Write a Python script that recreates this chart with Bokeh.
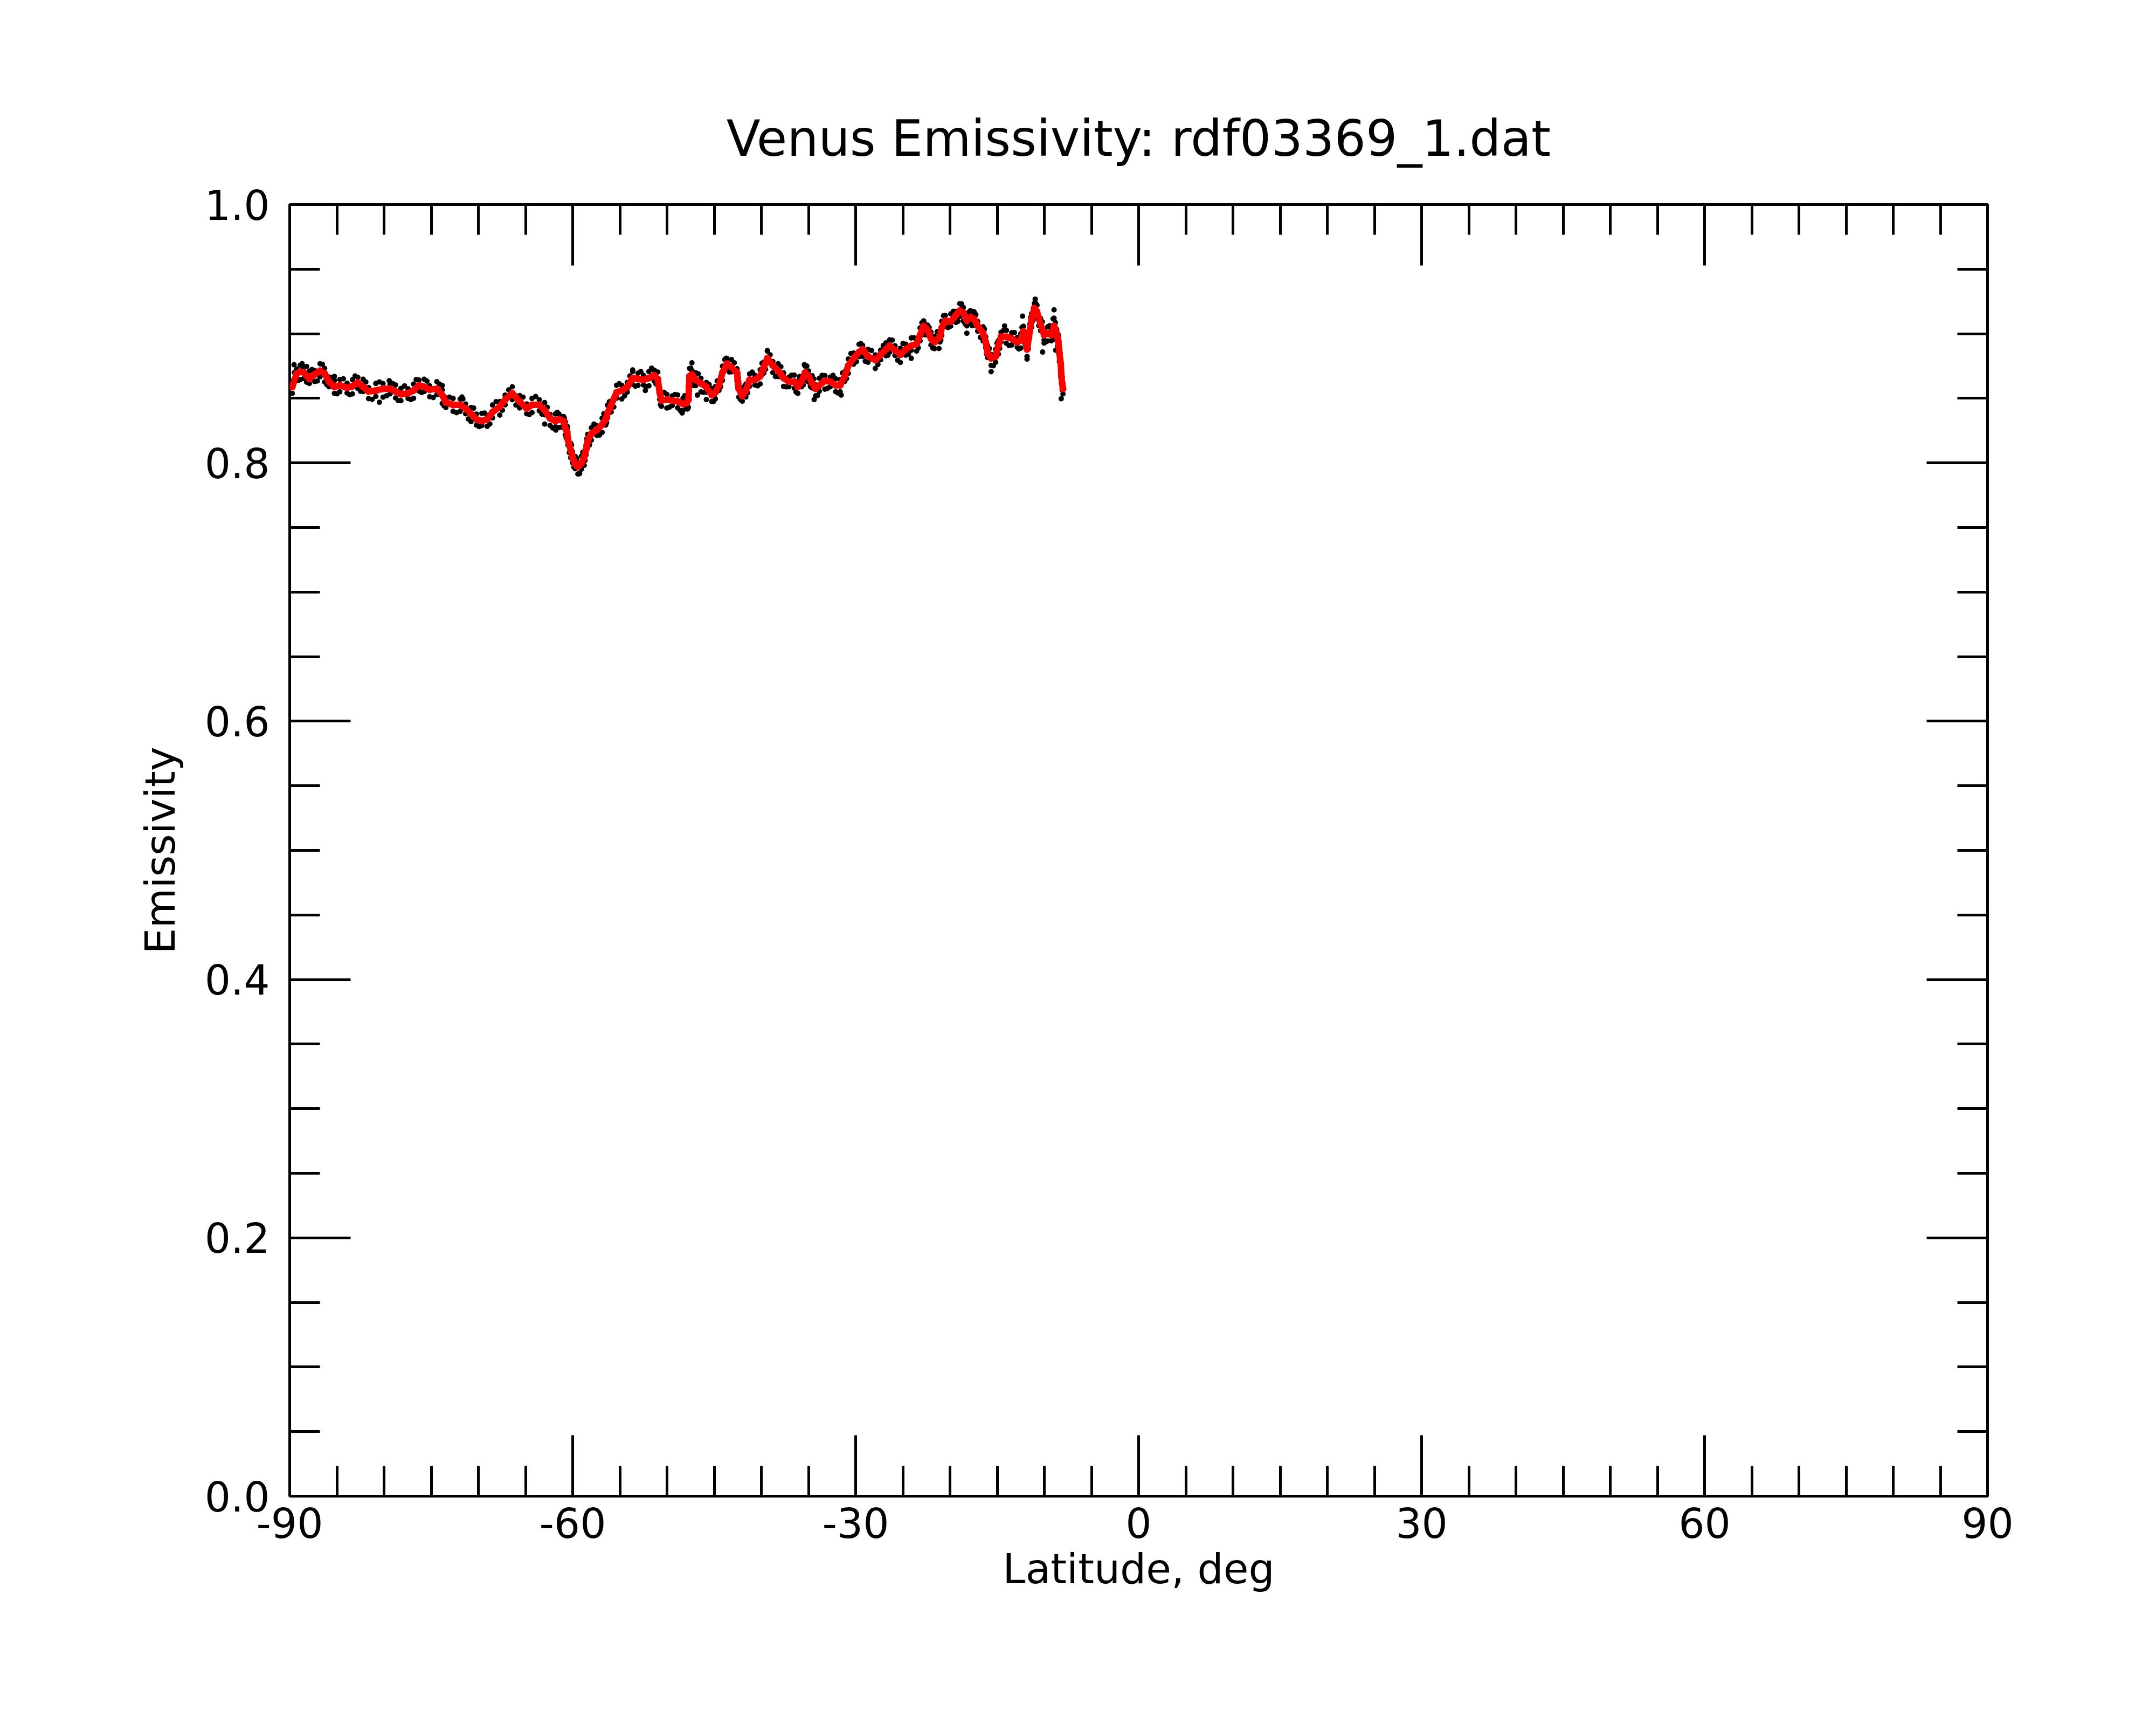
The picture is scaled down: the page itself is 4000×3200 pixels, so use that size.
from bokeh.plotting import figure
from bokeh.models import (FixedTicker, PrintfTickFormatter, LinearAxis,
                          CustomJSTickFormatter, Range1d, ColumnDataSource)
from bokeh.embed import file_html
from bokeh.resources import INLINE

TITLE = "Venus Emissivity: rdf03369_1.dat"
X_LABEL = "Latitude, deg"
Y_LABEL = "Emissivity"

X_TICKS = [-90, -60, -30, 0, 30, 60, 90]
Y_TICKS = [0.0, 0.2, 0.4, 0.6, 0.8, 1.0]

# latitude of the smoothed samples (deg)
LAT = [
    -89.73, -89.26, -88.88, -88.50, -87.92, -87.35, -86.78, -86.30, -85.83, -85.26,
    -84.69, -83.92, -83.35, -82.78, -82.21, -81.64, -80.87, -80.11, -79.36, -78.78,
    -78.21, -77.45, -76.87, -76.30, -75.74, -75.16, -74.40, -73.83, -73.44, -72.68,
    -71.93, -71.35, -70.78, -70.21, -69.63, -69.06, -68.50, -67.73, -67.16, -66.40,
    -65.63, -64.88, -64.31, -63.54, -62.97, -62.40, -61.83, -61.45, -60.97, -60.78,
    -60.59, -60.50, -60.21, -60.02, -59.73, -59.45, -59.07, -58.78, -58.59, -58.41,
    -58.02, -57.45, -56.88, -56.50, -56.30, -55.92, -55.35, -54.79, -54.21, -53.64,
    -53.07, -52.49, -51.92, -51.35, -50.98, -50.78, -50.59, -50.02, -49.45, -48.87,
    -48.30, -47.92, -47.73, -47.67, -47.62, -47.36, -46.97, -46.40, -45.83, -45.25,
    -44.87, -44.49, -44.12, -43.64, -43.16, -42.58, -42.49, -42.39, -42.02, -41.64,
    -41.25, -40.68, -40.12, -39.74, -39.36, -38.78, -38.21, -37.64, -37.07, -36.50,
    -36.13, -35.74, -35.36, -34.99, -34.61, -34.24, -33.85, -33.26, -32.69, -32.11,
    -31.64, -31.16, -30.78, -30.21, -29.64, -29.26, -28.69, -27.92, -27.35, -26.79,
    -26.40, -25.83, -25.26, -24.69, -24.11, -23.54, -23.17, -22.79, -22.40, -22.02,
    -21.64, -21.07, -20.87, -20.49, -19.92, -19.36, -18.97, -18.59, -18.21, -17.83,
    -17.45, -17.06, -16.49, -16.21, -16.02, -15.64, -15.16, -14.87, -14.59, -14.02,
    -13.45, -12.87, -12.50, -12.21, -12.02, -11.83, -11.55, -11.35, -11.06, -10.78,
    -10.40, -10.02, -9.63, -9.25, -8.97, -8.69, -8.50, -8.40, -8.26, -8.19,
    -8.11, -8.02,
]

# smoothed emissivity (red)
SMOOTH = [
    .8588, .8692, .8706, .8699, .8650, .8685, .8713, .8692, .8629, .8588,
    .8601, .8581, .8594, .8622, .8588, .8553, .8560, .8574, .8574, .8553,
    .8532, .8539, .8560, .8601, .8588, .8567, .8574, .8525, .8469, .8449,
    .8449, .8421, .8379, .8338, .8324, .8338, .8393, .8435, .8490, .8539,
    .8476, .8421, .8449, .8449, .8407, .8345, .8324, .8338, .8324, .8268,
    .8240, .8178, .8101, .8046, .7990, .7969, .7997, .8046, .8101, .8171,
    .8226, .8254, .8296, .8338, .8386, .8449, .8546, .8560, .8588, .8657,
    .8650, .8643, .8657, .8678, .8643, .8546, .8483, .8490, .8483, .8476,
    .8456, .8463, .8490, .8588, .8671, .8685, .8643, .8615, .8588, .8525,
    .8546, .8601, .8699, .8768, .8740, .8699, .8629, .8574, .8518, .8560,
    .8643, .8643, .8671, .8740, .8810, .8754, .8713, .8657, .8629, .8629,
    .8588, .8629, .8699, .8671, .8615, .8574, .8600, .8636, .8629, .8601,
    .8601, .8671, .8754, .8810, .8858, .8879, .8824, .8796, .8838, .8879,
    .8907, .8872, .8838, .8879, .8907, .8921, .8990, .9060, .9032, .8963,
    .8935, .8976, .9046, .9101, .9094, .9143, .9178, .9164, .9101, .9129,
    .9115, .9060, .9004, .8935, .8851, .8810, .8824, .8907, .8976, .8976,
    .8963, .8935, .8949, .9018, .8949, .8879, .9018, .9115, .9199, .9171,
    .9074, .8990, .9004, .8990, .9060, .9004, .8935, .8851, .8768, .8671,
    .8615, .8574,
]

# raw samples above the smoothed curve (black), at LAT
RAW_HIGH = [
    .8633, .8727, .8756, .8739, .8710, .8715, .8768, .8732, .8664, .8638,
    .8646, .8616, .8644, .8662, .8648, .8583, .8615, .8614, .8609, .8603,
    .8577, .8574, .8610, .8641, .8648, .8597, .8629, .8565, .8504, .8499,
    .8494, .8456, .8429, .8378, .8384, .8368, .8448, .8475, .8525, .8589,
    .8521, .8456, .8499, .8489, .8467, .8375, .8379, .8378, .8359, .8318,
    .8285, .8213, .8151, .8086, .8050, .7999, .8052, .8086, .8136, .8221,
    .8271, .8289, .8346, .8378, .8446, .8479, .8601, .8600, .8623, .8707,
    .8695, .8678, .8707, .8718, .8703, .8576, .8538, .8530, .8518, .8526,
    .8501, .8498, .8540, .8628, .8731, .8715, .8698, .8655, .8623, .8575,
    .8591, .8636, .8749, .8808, .8800, .8729, .8684, .8614, .8553, .8610,
    .8688, .8678, .8721, .8780, .8870, .8784, .8768, .8697, .8664, .8679,
    .8633, .8664, .8749, .8711, .8675, .8604, .8655, .8676, .8664, .8651,
    .8646, .8706, .8804, .8850, .8918, .8909, .8879, .8836, .8873, .8929,
    .8952, .8907, .8888, .8919, .8967, .8951, .9045, .9100, .9067, .9013,
    .8980, .9011, .9096, .9141, .9154, .9173, .9233, .9204, .9136, .9179,
    .9160, .9095, .9054, .8975, .8911, .8840, .8879, .8947, .9011, .9026,
    .9008, .8970, .8999, .9058, .9009, .8909, .9073, .9155, .9234, .9221,
    .9119, .9025, .9054, .9030, .9120, .9034, .8990, .8891, .8803, .8721,
    .8660, .8609,
]

# raw samples below the smoothed curve (black), at LAT
RAW_LOW = [
    .8538, .8652, .8646, .8654, .8615, .8630, .8668, .8627, .8589, .8538,
    .8551, .8541, .8534, .8577, .8553, .8498, .8515, .8509, .8534, .8503,
    .8482, .8499, .8500, .8556, .8553, .8512, .8529, .8460, .8429, .8399,
    .8399, .8381, .8319, .8293, .8289, .8283, .8348, .8370, .8450, .8489,
    .8426, .8381, .8389, .8404, .8372, .8290, .8279, .8273, .8284, .8218,
    .8190, .8138, .8041, .8001, .7955, .7914, .7952, .7981, .8061, .8121,
    .8176, .8214, .8236, .8293, .8351, .8394, .8501, .8495, .8548, .8607,
    .8600, .8603, .8597, .8633, .8608, .8491, .8438, .8425, .8443, .8426,
    .8406, .8423, .8430, .8543, .8636, .8630, .8598, .8550, .8548, .8475,
    .8496, .8561, .8639, .8723, .8705, .8644, .8584, .8509, .8478, .8510,
    .8593, .8603, .8611, .8695, .8775, .8699, .8668, .8592, .8589, .8579,
    .8538, .8589, .8639, .8626, .8580, .8519, .8555, .8571, .8589, .8551,
    .8551, .8631, .8694, .8765, .8823, .8824, .8779, .8731, .8798, .8829,
    .8857, .8832, .8778, .8834, .8872, .8866, .8945, .8995, .8992, .8913,
    .8885, .8936, .8986, .9056, .9059, .9088, .9133, .9099, .9061, .9079,
    .9065, .9020, .8944, .8890, .8816, .8755, .8779, .8842, .8936, .8926,
    .8913, .8895, .8889, .8973, .8914, .8824, .8973, .9050, .9159, .9121,
    .9024, .8950, .8944, .8945, .9025, .8949, .8890, .8786, .8728, .8621,
    .8565, .8534,
]

# raw samples between the LAT positions (black)
MID_LAT = [
    -89.50, -89.07, -88.69, -88.21, -87.64, -87.07, -86.54, -86.07, -85.55, -84.98,
    -84.31, -83.64, -83.07, -82.50, -81.93, -81.26, -80.49, -79.74, -79.07, -78.50,
    -77.83, -77.16, -76.59, -76.02, -75.45, -74.78, -74.12, -73.64, -73.06, -72.31,
    -71.64, -71.07, -70.50, -69.92, -69.35, -68.78, -68.12, -67.45, -66.78, -66.02,
    -65.26, -64.60, -63.93, -63.26, -62.69, -62.12, -61.64, -61.21, -60.88, -60.69,
    -60.55, -60.36, -60.12, -59.88, -59.59, -59.26, -58.93, -58.69, -58.50, -58.22,
    -57.74, -57.17, -56.69, -56.40, -56.11, -55.64, -55.07, -54.50, -53.93, -53.36,
    -52.78, -52.21, -51.64, -51.17, -50.88, -50.69, -50.31, -49.74, -49.16, -48.59,
    -48.11, -47.83, -47.70, -47.65, -47.49, -47.17, -46.69, -46.12, -45.54, -45.06,
    -44.68, -44.31, -43.88, -43.40, -42.87, -42.54, -42.44, -42.21, -41.83, -41.45,
    -40.97, -40.40, -39.93, -39.55, -39.07, -38.50, -37.93, -37.36, -36.79, -36.32,
    -35.94, -35.55, -35.18, -34.80, -34.43, -34.05, -33.56, -32.98, -32.40, -31.88,
    -31.40, -30.97, -30.50, -29.93, -29.45, -28.98, -28.31, -27.64, -27.07, -26.60,
    -26.12, -25.55, -24.98, -24.40, -23.83, -23.36, -22.98, -22.60, -22.21, -21.83,
    -21.36, -20.97, -20.68, -20.21, -19.64, -19.17, -18.78, -18.40, -18.02, -17.64,
    -17.26, -16.78, -16.35, -16.12, -15.83, -15.40, -15.02, -14.73, -14.31, -13.74,
    -13.16, -12.69, -12.36, -12.12, -11.93, -11.69, -11.45, -11.21, -10.92, -10.59,
    -10.21, -9.83, -9.44, -9.11, -8.83, -8.60,
]
RAW_MID = [
    .8700, .8639, .8768, .8625, .8723, .8634, .8763, .8606, .8659, .8535,
    .8651, .8528, .8673, .8555, .8626, .8492, .8627, .8519, .8614, .8483,
    .8596, .8490, .8646, .8545, .8633, .8506, .8610, .8442, .8509, .8389,
    .8495, .8340, .8424, .8281, .8386, .8301, .8474, .8408, .8565, .8448,
    .8509, .8375, .8514, .8378, .8431, .8270, .8391, .8276, .8346, .8194,
    .8269, .8080, .8139, .7968, .8035, .7918, .8082, .8019, .8186, .8139,
    .8300, .8215, .8382, .8312, .8473, .8433, .8613, .8519, .8673, .8594,
    .8707, .8590, .8733, .8611, .8650, .8450, .8547, .8432, .8530, .8406,
    .8520, .8417, .8604, .8580, .8733, .8599, .8689, .8547, .8607, .8476,
    .8634, .8590, .8799, .8704, .8775, .8599, .8662, .8491, .8589, .8542,
    .8703, .8597, .8771, .8725, .8837, .8669, .8745, .8588, .8679, .8549,
    .8669, .8604, .8750, .8593, .8650, .8522, .8678, .8578, .8665, .8541,
    .8696, .8653, .8847, .8784, .8924, .8787, .8870, .8762, .8909, .8833,
    .8950, .8795, .8924, .8843, .8969, .8891, .9085, .8991, .9048, .8889,
    .9016, .8951, .9139, .9048, .9174, .9096, .9231, .9078, .9165, .9062,
    .9148, .8972, .9035, .8843, .8886, .8752, .8926, .8887, .9026, .8910,
    .9009, .8882, .9049, .8934, .8969, .8884, .9127, .9102, .9235, .9063,
    .9092, .8937, .9062, .8975, .9087, .8905,
]

# isolated raw samples (black)
OUT_LAT = [-89.54, -88.21, -85.26, -80.49, -79.45, -73.83, -71.74, -62.97, -61.79,
           -59.35, -53.64, -52.30, -48.40, -47.36, -46.78, -45.83, -43.73, -39.36,
           -35.44, -34.40, -32.40, -31.54, -24.11, -23.59, -22.79, -21.17, -18.79,
           -18.21, -17.45, -15.64, -14.21, -12.31, -11.83, -10.97, -10.18, -10.02,
           -9.07, -8.97, -8.79, -8.21]
OUT_EMIS = [0.8760, 0.8747, 0.8670, 0.8469, 0.8636, 0.8600, 0.8510, 0.8300, 0.8254,
            0.7914, 0.8720, 0.8560, 0.8386, 0.8775, 0.8525, 0.8490, 0.8810, 0.8865,
            0.8760, 0.8490, 0.8678, 0.8525, 0.8810, 0.8963, 0.9087, 0.8886, 0.9226,
            0.9004, 0.9170, 0.8706, 0.9060, 0.9136, 0.8803, 0.9268, 0.8858, 0.8928,
            0.9115, 0.9185, 0.8872, 0.8497]

FONT = "DejaVu Sans"

p = figure(
    frame_width=3150, frame_height=2396,
    min_border_left=537, min_border_top=379, min_border_right=290, min_border_bottom=400,
    x_range=Range1d(-90, 90), y_range=Range1d(0, 1),
    output_backend="svg", toolbar_location=None, tools="",
    background_fill_color="white", border_fill_color="white",
)
p.grid.visible = False
p.outline_line_color = "black"
p.outline_line_width = 5

p.title.text = TITLE
p.title.text_font = FONT
p.title.text_font_size = "92px"
p.title.text_font_style = "normal"
p.title.text_color = "black"
p.title.align = "center"
p.title.standoff = 138

x_ticker = FixedTicker(ticks=X_TICKS, minor_ticks=list(range(-90, 91, 5)))
y_ticker = FixedTicker(ticks=Y_TICKS, minor_ticks=[i * 0.05 for i in range(21)])


def style_axis(ax):
    ax.axis_line_color = None
    ax.major_tick_in = 113
    ax.major_tick_out = 0
    ax.minor_tick_in = 56
    ax.minor_tick_out = 0
    ax.major_tick_line_width = 5
    ax.minor_tick_line_width = 5
    ax.major_tick_line_color = "black"
    ax.minor_tick_line_color = "black"
    ax.major_label_text_font = FONT
    ax.major_label_text_font_size = "76px"
    ax.major_label_text_color = "black"
    ax.axis_label_text_font = FONT
    ax.axis_label_text_font_size = "76px"
    ax.axis_label_text_font_style = "normal"
    ax.axis_label_text_color = "black"


xa = p.xaxis[0]
xa.ticker = x_ticker
xa.formatter = PrintfTickFormatter(format="%d")
xa.axis_label = X_LABEL
style_axis(xa)
xa.major_label_standoff = 21
xa.axis_label_standoff = 10

ya = p.yaxis[0]
ya.ticker = y_ticker
ya.formatter = PrintfTickFormatter(format="%.1f")
ya.axis_label = Y_LABEL
style_axis(ya)
ya.major_label_standoff = 37
ya.axis_label_standoff = 35

blank = CustomJSTickFormatter(code="return ''")
top = LinearAxis(ticker=x_ticker, formatter=blank)
style_axis(top)
top.major_label_standoff = 0
right = LinearAxis(ticker=y_ticker, formatter=blank)
style_axis(right)
right.major_label_standoff = 0
p.add_layout(top, "above")
p.add_layout(right, "right")

raw = ColumnDataSource(dict(lat=LAT + LAT + MID_LAT + OUT_LAT,
                            emis=RAW_HIGH + RAW_LOW + RAW_MID + OUT_EMIS))
smooth = ColumnDataSource(dict(lat=LAT, emis=SMOOTH))

p.scatter("lat", "emis", source=raw, size=10, color="black", line_color=None)
p.line("lat", "emis", source=smooth, line_width=12, line_color="red", line_join="round")
p.scatter("lat", "emis", source=smooth, size=13, color="red", line_color=None)

open("out.html", "w").write(file_html(p, INLINE))
